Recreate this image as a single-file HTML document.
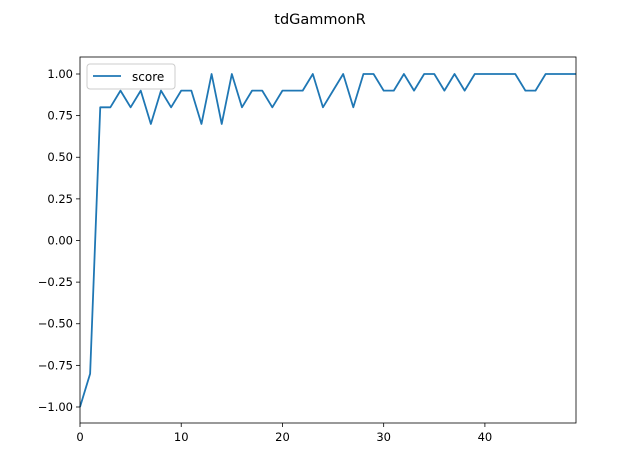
<!DOCTYPE html>
<html><head><meta charset="utf-8"><style>body{margin:0;background:#fff}svg{display:block;font-family:"DejaVu Sans","Liberation Sans",sans-serif}</style></head>
<body>
<svg id="chart" width="640" height="476"></svg>
<script>
const episodes = [];
for (let i = 0; i < 50; i++) episodes.push(i);
const scores = [-1,-0.8,0.8,0.8,0.9,0.8,0.9,0.7,0.9,0.8,0.9,0.9,0.7,1,0.7,1,0.8,0.9,0.9,0.8,0.9,0.9,0.9,1,0.8,0.9,1,0.8,1,1,0.9,0.9,1,0.9,1,1,0.9,1,0.9,1,1,1,1,1,0.9,0.9,1,1,1,1];
const xTicks = [0,10,20,30,40];
const yTicks = [-1,-0.75,-0.5,-0.25,0,0.25,0.5,0.75,1];
const L=80,R=576,T=57,B=423;
const x0=0,x1=49,y0=-1.0961,y1=1.1021;
const sx=v=>L+(v-x0)/(x1-x0)*(R-L);
const sy=v=>B-(v-y0)/(y1-y0)*(B-T);
const svg=document.getElementById('chart');
const NS='http://www.w3.org/2000/svg';
function mk(t,a,txt){const e=document.createElementNS(NS,t);for(const k in a)e.setAttribute(k,a[k]);if(txt!==undefined)e.textContent=txt;svg.appendChild(e);return e;}
let t=mk('text',{x:320,y:24,'text-anchor':'middle','font-size':14.5},'tdGammonR');


xTicks.forEach(v=>{const X=sx(v);
 let l=mk('line',{x1:X,x2:X,y1:B,y2:B+4,stroke:'#000','stroke-width':0.8});
 
 
 let tx=mk('text',{x:X,y:B+18,'text-anchor':'middle','font-size':11.5},String(v));
 
 
});
yTicks.forEach(v=>{const Y=sy(v);
 let l=mk('line',{x1:L-4,x2:L,y1:Y,y2:Y,stroke:'#000','stroke-width':0.8});
 
 
 let tx=mk('text',{x:L-7,y:Y+4,'text-anchor':'end','font-size':11.5},v.toFixed(2).replace('-','\u2212'));
 
 
});
let p=mk('polyline',{points:episodes.map((e,i)=>sx(e)+','+sy(scores[i])).join(' '),fill:'none',stroke:'#1f77b4','stroke-width':1.8,'stroke-linejoin':'round'});


let fr=mk('rect',{x:L,y:T,width:R-L,height:B-T,fill:'none',stroke:'#000','stroke-width':0.8});


let lg=mk('rect',{x:87,y:64,width:88,height:25,rx:3,fill:'#fff','fill-opacity':0.8,stroke:'#ccc','stroke-width':1});


let ll=mk('line',{x1:93,x2:121,y1:76,y2:76,stroke:'#1f77b4','stroke-width':1.8});


let lt=mk('text',{x:132,y:81,'font-size':12},'score');


</script>
</body></html>
